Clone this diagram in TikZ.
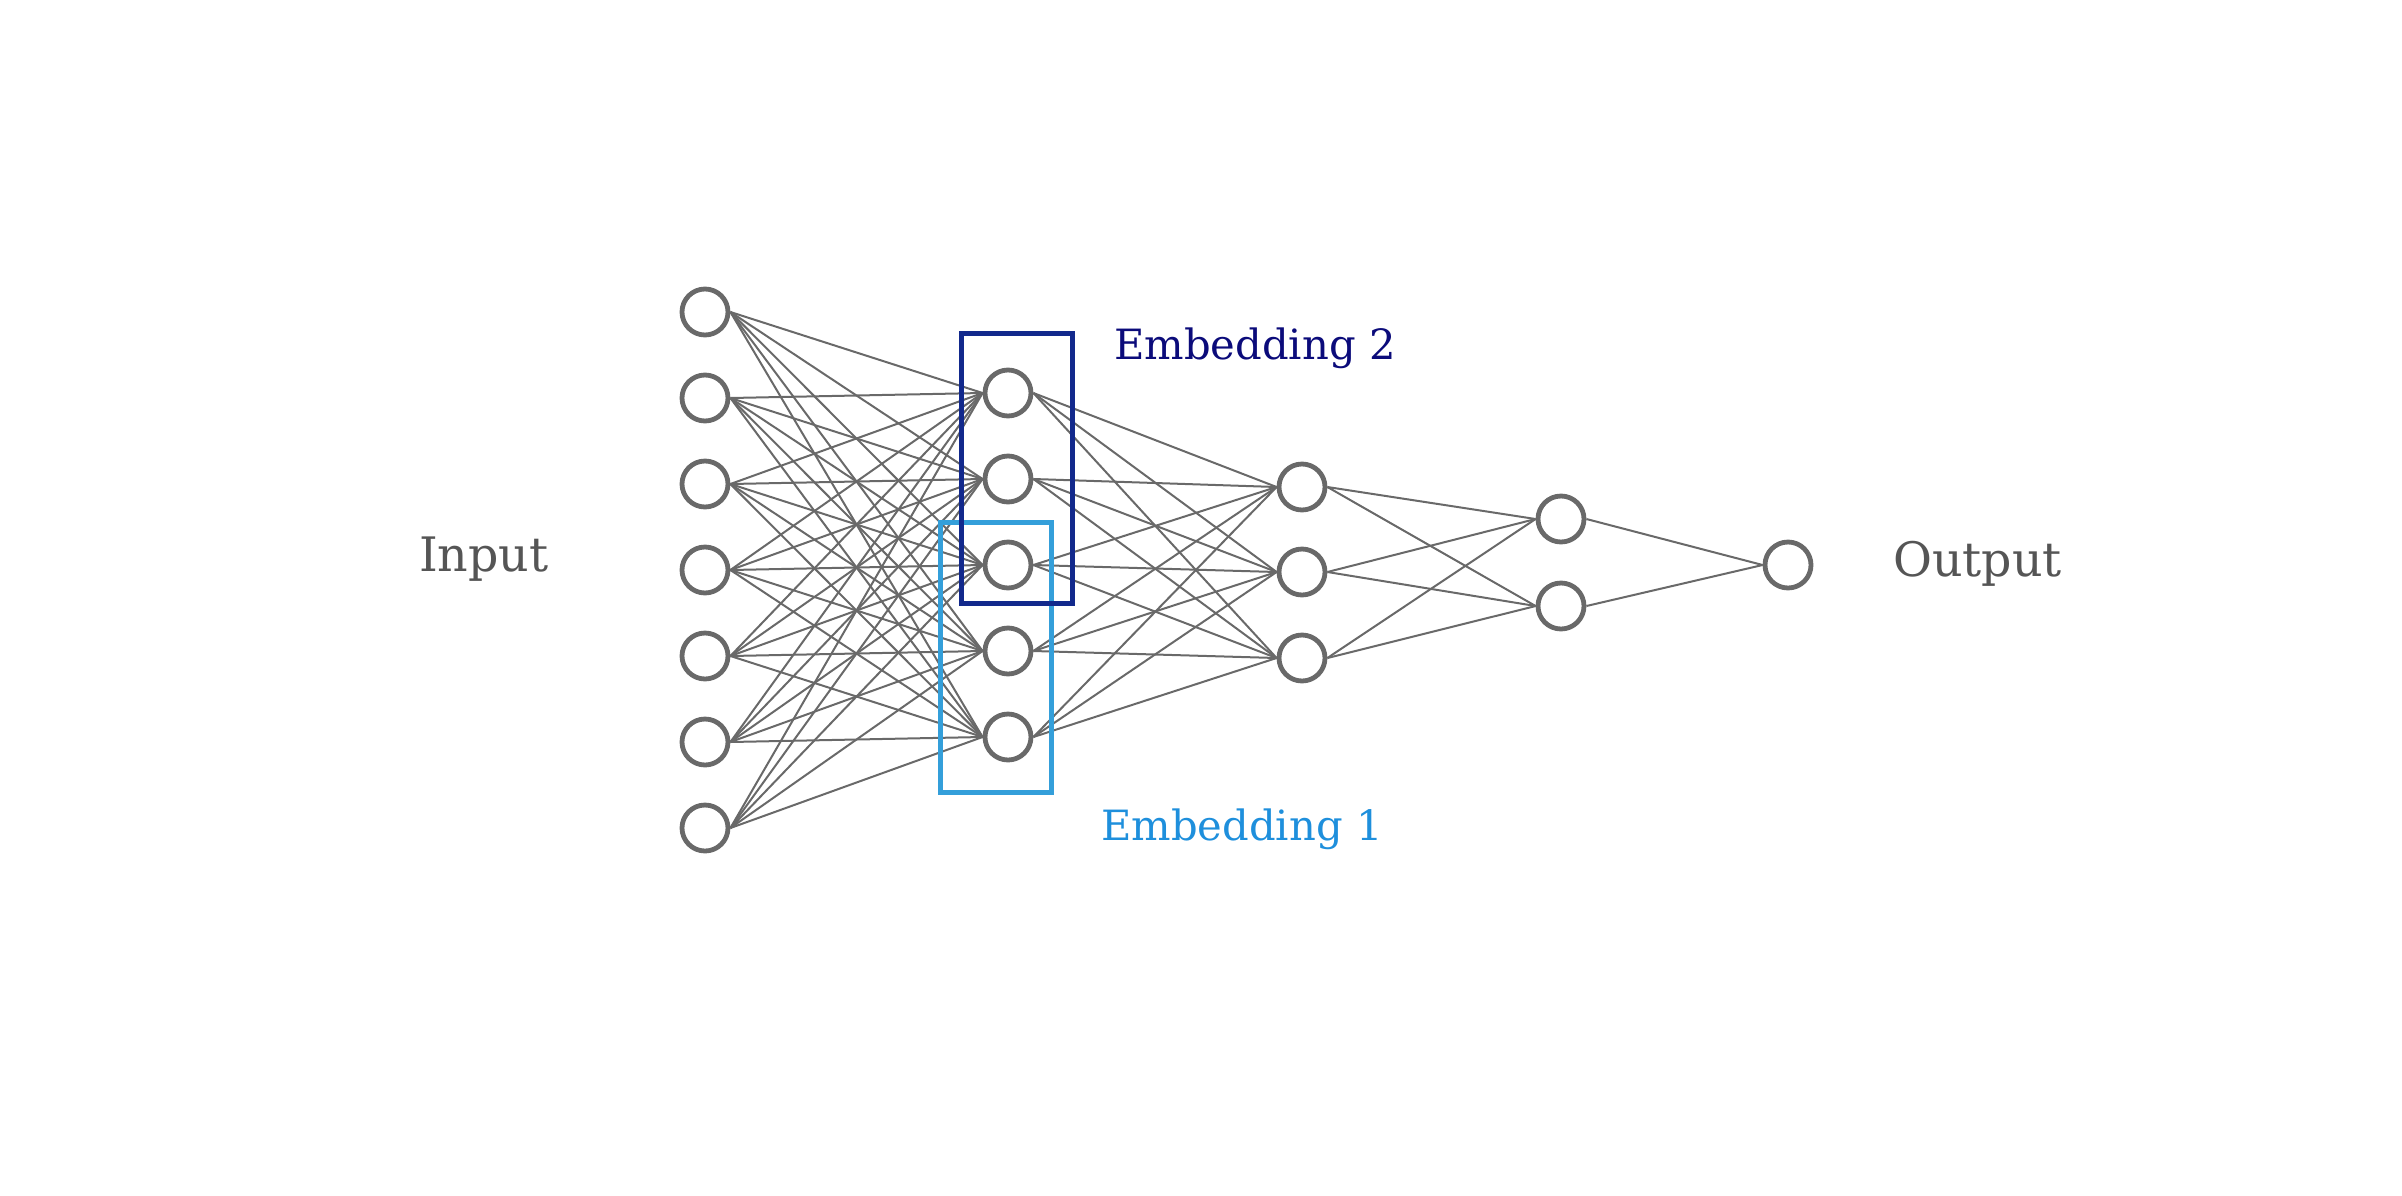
\documentclass[tikz,border=0pt]{standalone}
\usepackage{fontspec}
\setmainfont{DejaVu Serif}
\definecolor{nodegray}{HTML}{696969}
\definecolor{txtgray}{HTML}{555555}
\definecolor{embtwo}{HTML}{0B0B7A}
\definecolor{embone}{HTML}{1E8FDC}
\definecolor{boxtwo}{HTML}{12298C}
\definecolor{boxone}{HTML}{349FDA}
\tikzset{
  neuron/.style={circle,draw=nodegray,line width=4.8pt,minimum size=46pt,inner sep=0pt,fill=white},
  link/.style={draw=nodegray,line width=2pt},
  lbl/.style={anchor=base west,inner sep=0pt,font=\fontsize{47.5}{57}\selectfont,text=txtgray},
  emblbl/.style={anchor=base west,inner sep=0pt,font=\fontsize{41.7}{50}\selectfont},
}
\begin{document}
\begin{tikzpicture}[x=1pt,y=-1pt]
\useasboundingbox (0,0) rectangle (2402,1195);
% input layer
\foreach \i/\y in {1/312,2/398,3/484,4/570,5/656,6/742,7/828}
  \node[neuron] (i\i) at (705,\y) {};
% hidden 1
\foreach \i/\y in {1/393,2/479,3/565,4/651,5/737}
  \node[neuron] (a\i) at (1008,\y) {};
% hidden 2
\foreach \i/\y in {1/487,2/572,3/658}
  \node[neuron] (b\i) at (1302,\y) {};
% hidden 3
\foreach \i/\y in {1/519,2/606}
  \node[neuron] (c\i) at (1561,\y) {};
% output
\node[neuron] (o) at (1788,565) {};
% edges
\foreach \i in {1,...,7}
  \foreach \j in {1,...,5}
    \draw[link] (i\i.east) -- (a\j.west);
\foreach \i in {1,...,5}
  \foreach \j in {1,...,3}
    \draw[link] (a\i.east) -- (b\j.west);
\foreach \i in {1,...,3}
  \foreach \j in {1,...,2}
    \draw[link] (b\i.east) -- (c\j.west);
\foreach \i in {1,...,2}
  \draw[link] (c\i.east) -- (o.west);
% embedding boxes
\node[draw=boxone,line width=5pt,inner sep=0pt,minimum width=111pt,minimum height=270pt] (e1box) at (996,657) {};
\node[draw=boxtwo,line width=5pt,inner sep=0pt,minimum width=111pt,minimum height=270pt] (e2box) at (1016.5,468) {};
% labels
\node[lbl] (inlbl) at (419,571) {Input};
\node[lbl] (outlbl) at (1893,576) {Output};
\node[emblbl,text=embtwo] (e2lbl) at (1114,359) {Embedding 2};
\node[emblbl,text=embone] (e1lbl) at (1101,840) {Embedding 1};
\end{tikzpicture}
\end{document}
